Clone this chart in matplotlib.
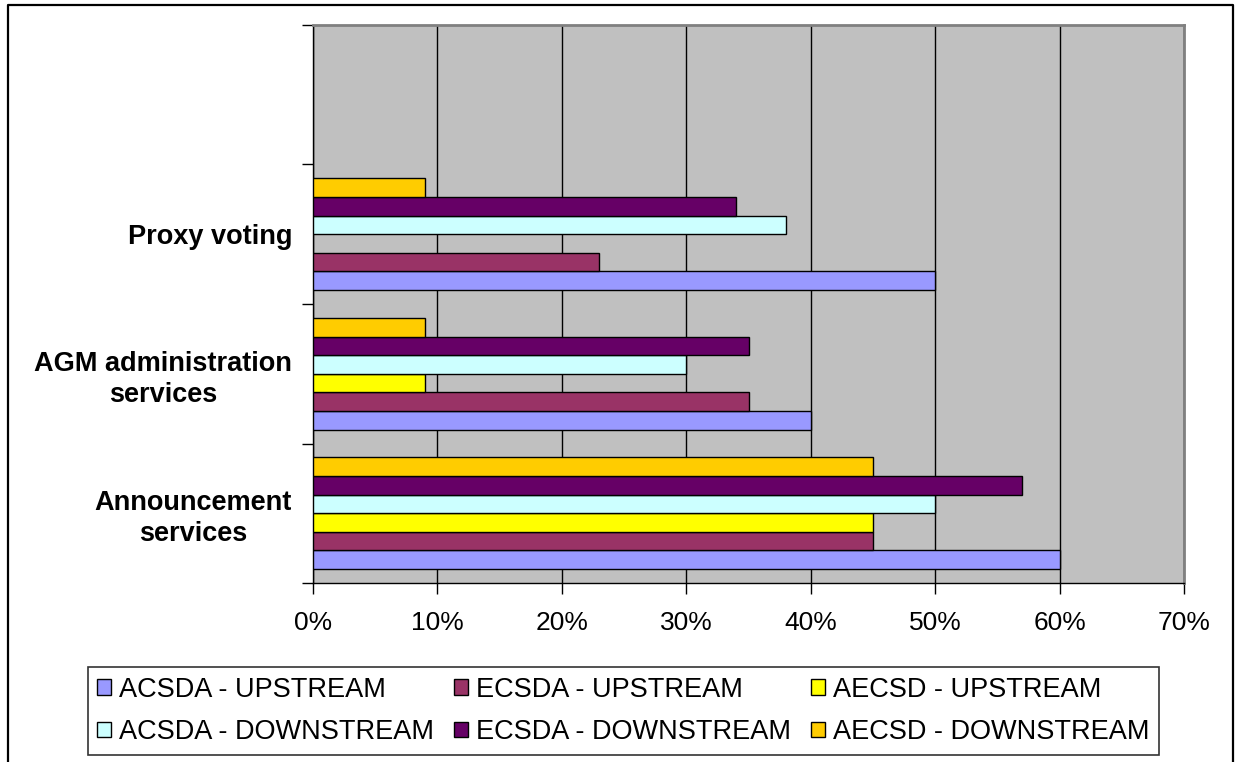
import matplotlib
matplotlib.use("Agg")
import matplotlib.pyplot as plt
import numpy as np
from matplotlib.patches import Patch
from matplotlib.lines import Line2D

plt.rcParams['font.family'] = ['Liberation Sans', 'DejaVu Sans']

# categories, bottom to top (top one is empty in the source chart)
categories = ["Announcement\nservices", "AGM administration\nservices", "Proxy voting", ""]

series_names = ["ACSDA - UPSTREAM", "ECSDA - UPSTREAM", "AECSD - UPSTREAM",
                "ACSDA - DOWNSTREAM", "ECSDA - DOWNSTREAM", "AECSD - DOWNSTREAM"]
series_colors = ["#9999FF", "#993366", "#FFFF00", "#CCFFFF", "#660066", "#FFCC00"]

# values in %, one list per series, same order as categories
acsda_up = [60, 40, 50, None]
ecsda_up = [45, 35, 23, None]
aecsd_up = [45, 9, None, None]
acsda_down = [50, 30, 38, None]
ecsda_down = [57, 35, 34, None]
aecsd_down = [45, 9, 9, None]

series_values = [acsda_up, ecsda_up, aecsd_up, acsda_down, ecsda_down, aecsd_down]

x_ticks = [0, 10, 20, 30, 40, 50, 60, 70]

fig = plt.figure(figsize=(12.37, 7.62), dpi=100)
ax = fig.add_axes([0.2530, 0.2349, 0.9572 - 0.2530, 0.9672 - 0.2349])
ax.set_facecolor("#C0C0C0")

n = len(series_values)
bar_h = 0.8 / n
for k, (vals, name, col) in enumerate(zip(series_values, series_names, series_colors)):
    v = np.array([np.nan if x is None else x for x in vals], dtype=float)
    y = np.arange(len(categories)) + 0.1 + (k + 0.5) * bar_h
    ax.barh(y, v, height=bar_h, color=col, edgecolor="black", linewidth=1.0,
            label=name, zorder=3)

ax.set_xlim(0, 70)
ax.set_ylim(0, len(categories))
ax.set_xticks(x_ticks)
ax.set_xticklabels([f"{t}%" for t in x_ticks], fontsize=19)
ax.xaxis.grid(True, color="black", linewidth=1.0, zorder=0)
ax.set_axisbelow(True)

ax.set_yticks(np.arange(len(categories) + 1))
ax.set_yticklabels([])
ax.set_yticks(np.arange(len(categories)) + 0.5, minor=True)
ax.set_yticklabels(categories, minor=True, fontsize=19.5, fontweight="bold",
                   multialignment="center", linespacing=1.25)
ax.tick_params(axis="y", which="minor", length=0, pad=15)
ax.tick_params(axis="y", which="major", length=8, width=1, direction="out")
ax.tick_params(axis="x", length=8, width=1, direction="out", pad=12)

for s in ["top", "right"]:
    ax.spines[s].set_color("#808080")
    ax.spines[s].set_linewidth(2)
for s in ["left", "bottom"]:
    ax.spines[s].set_color("black")
    ax.spines[s].set_linewidth(1)

# legend, filled row by row like the original
handles = [Patch(facecolor=c, edgecolor="black", linewidth=1.0) for c in series_colors]
order = [0, 3, 1, 4, 2, 5]
leg = fig.legend([handles[i] for i in order], [series_names[i] for i in order],
                 ncol=3, loc="center", bbox_to_anchor=(0.504, 0.067),
                 fontsize=19.5, frameon=True, fancybox=False, edgecolor="black",
                 handlelength=0.5, handleheight=0.5, handletextpad=0.3,
                 columnspacing=0.75, labelspacing=0.6, borderpad=0.35)
leg.get_frame().set_linewidth(1.2)

# outer chart frame (no bottom edge visible)
W, H = 1237, 762
fx = lambda px: px / W
fy = lambda py: 1 - py / H
frame = Line2D([fx(8), fx(8), fx(1233), fx(1233)], [0, fy(5), fy(5), 0],
               transform=fig.transFigure, color="black", linewidth=1.6)
fig.add_artist(frame)

fig.savefig("out.png", dpi=100)
